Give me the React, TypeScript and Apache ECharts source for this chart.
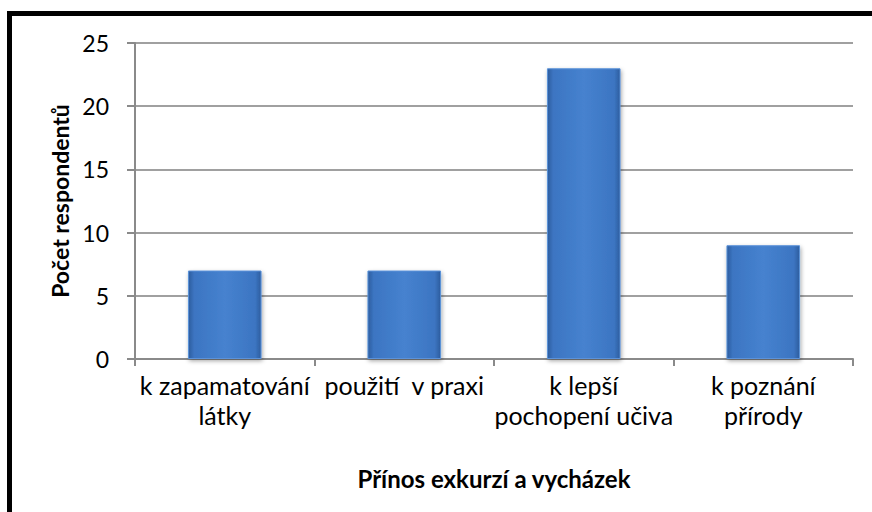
import React, { useEffect, useRef } from "react";
import * as echarts from "echarts";

const categories = [
  "k zapamatování\nlátky",
  "použití  v praxi",
  "k lepší\npochopení učiva",
  "k poznání\npřírody",
];
const values = [7, 7, 23, 9];
const yTicks = { min: 0, max: 25, interval: 5 };
const xTitle = "Přínos exkurzí a vycházek";
const yTitle = "Počet respondentů";

const FONT = "Lato, 'Open Sans', sans-serif";

export default function App() {
  const ref = useRef<HTMLDivElement>(null);
  useEffect(() => {
    if (!ref.current) return;
    const chart = echarts.init(ref.current, null, { renderer: "svg" });
    chart.setOption({
      animation: false,
      backgroundColor: "#ffffff",
      textStyle: { fontFamily: FONT },
      graphic: [
        {
          type: "rect",
          shape: { x: 9.5, y: 13.5, width: 900, height: 600 },
          style: {
            fill: "none",
            stroke: "#000000",
            lineWidth: 5,
          },
          z: 100,
        },
      ],
      grid: { left: 135, right: 19, top: 43, bottom: 153, containLabel: false },
      xAxis: {
        type: "category",
        data: categories,
        name: xTitle,
        nameLocation: "middle",
        nameGap: 119,
        nameTextStyle: {
          fontFamily: FONT,
          fontWeight: "bold",
          fontSize: 24,
          color: "#000",
          verticalAlign: "middle",
        },
        axisLine: { show: true, lineStyle: { color: "#8a8a8a", width: 2 } },
        axisTick: { show: true, length: 7, alignWithLabel: false, lineStyle: { color: "#8a8a8a", width: 2 } },
        axisLabel: {
          fontFamily: FONT,
          fontSize: 25,
          color: "#000",
          margin: 11,
          lineHeight: 30,
          interval: 0,
        },
      },
      yAxis: {
        type: "value",
        min: yTicks.min,
        max: yTicks.max,
        interval: yTicks.interval,
        name: yTitle,
        nameLocation: "middle",
        nameGap: 72,
        nameRotate: 90,
        nameTextStyle: {
          fontFamily: FONT,
          fontWeight: "bold",
          fontSize: 23,
          color: "#000",
          verticalAlign: "middle",
        },
        axisLine: { show: true, lineStyle: { color: "#8a8a8a", width: 2 } },
        axisTick: { show: true, length: 8, lineStyle: { color: "#8a8a8a", width: 2 } },
        axisLabel: { fontFamily: FONT, fontSize: 23, color: "#000", margin: 26 },
        splitLine: { show: true, lineStyle: { color: "#a0a0a0", width: 2 } },
      },
      series: [
        {
          type: "bar",
          data: values,
          barWidth: "41%",
          itemStyle: {
            color: {
              type: "linear",
              x: 0,
              y: 0,
              x2: 1,
              y2: 0,
              colorStops: [
                { offset: 0, color: "#2d5d9e" },
                { offset: 0.08, color: "#3c75c2" },
                { offset: 0.5, color: "#4682cf" },
                { offset: 0.92, color: "#3c75c2" },
                { offset: 1, color: "#2d5d9e" },
              ],
            },
            borderColor: "#5b92d9",
            borderWidth: 1,
            shadowColor: "rgba(0,0,0,0.35)",
            shadowBlur: 4,
            shadowOffsetX: 1,
            shadowOffsetY: 2,
          },
        },
      ],
    });
    return () => chart.dispose();
  }, []);
  return (
    <div
      ref={ref}
      style={{ position: "fixed", left: 0, top: 0, width: 872, height: 512 }}
    />
  );
}
